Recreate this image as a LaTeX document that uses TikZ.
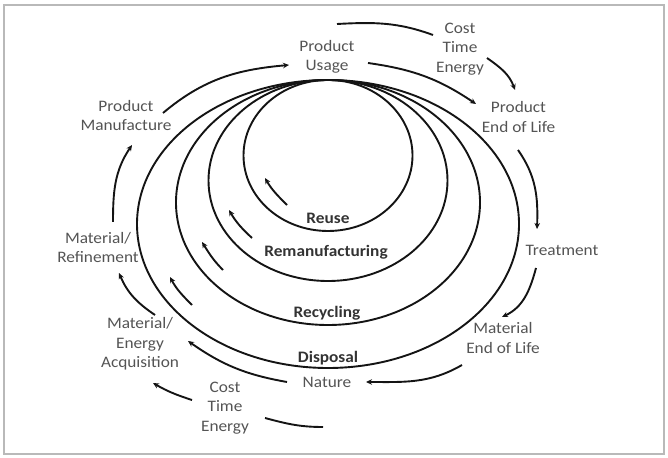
\documentclass[tikz,border=0pt]{standalone}
\usepackage{fontspec}
\setmainfont{Carlito}[FakeStretch=1.08]
\usetikzlibrary{arrows.meta}
\definecolor{txt}{gray}{0.33}
\definecolor{btxt}{gray}{0.2}
\definecolor{ln}{gray}{0.08}
\tikzset{
  lbl/.style={inner sep=0pt, align=center, text=txt, font=\fontsize{16}{19.3}\selectfont},
  blbl/.style={inner sep=0pt, align=center, text=btxt, font=\fontsize{16}{19.3}\selectfont\bfseries},
  ring/.style={draw=ln, line width=1.9pt},
  flow/.style={draw=ln, line width=1.9pt, -{Stealth[length=6pt,width=5.5pt]}},
  plain/.style={draw=ln, line width=1.9pt},
}
\begin{document}
\begin{tikzpicture}[x=1pt,y=1pt]
\useasboundingbox (0,0) rectangle (668,457);
\draw[gray!55, line width=2pt] (3.5,3) rectangle (664,452);

% rings
\draw[ring] (328,301.5) ellipse [x radius=84.5pt, y radius=75.5pt];
\draw[ring] (328,276.5) ellipse [x radius=119.5pt, y radius=100.5pt];
\draw[ring] (328,254.5) ellipse [x radius=152pt, y radius=122.5pt];
\draw[ring] (328,233) ellipse [x radius=191pt, y radius=144pt];

% labels
\node[lbl] (usage) at (327,400.5) {Product\\Usage};
\node[lbl] (costA) at (460,408) {Cost\\Time\\Energy};
\node[lbl] (manuf) at (126,341.5) {Product\\Manufacture};
\node[lbl] (pel) at (518.5,340) {Product\\End of Life};
\node[lbl] (refine) at (98,209.5) {Material/\\Refinement};
\node[lbl] (treat) at (562,207) {Treatment};
\node[lbl] (acq) at (140,113) {Material/\\Energy\\Acquisition};
\node[lbl] (mel) at (503,119) {Material\\End of Life};
\node[lbl] (nature) at (327,75) {Nature};
\node[lbl] (costB) at (225,49) {Cost\\Time\\Energy};
\node[blbl] (reuse) at (328,239) {Reuse};
\node[blbl] (reman) at (326,205) {Remanufacturing};
\node[blbl] (recyc) at (327,144) {Recycling};
\node[blbl] (disp) at (328,99) {Disposal};

% connector end points
\coordinate (a1s) at (163,344); \coordinate (a1e) at (289,392);
\coordinate (a2s) at (368,394); \coordinate (a2e) at (476,353);
\coordinate (c1s) at (337,433); \coordinate (c1e) at (433,422);
\coordinate (c2s) at (487,399); \coordinate (c2e) at (515,367);
\coordinate (a3s) at (518,307); \coordinate (a3e) at (537,228);
\coordinate (a4s) at (536,189); \coordinate (a4e) at (502,140);
\coordinate (a5s) at (462,92);  \coordinate (a5e) at (366,75);
\coordinate (a6s) at (287,75);  \coordinate (a6e) at (188,116);
\coordinate (a7s) at (155,142); \coordinate (a7e) at (119,184);
\coordinate (a8s) at (113,235); \coordinate (a8e) at (132,312);
\coordinate (c3s) at (323,30);  \coordinate (c3e) at (265,39);
\coordinate (c4s) at (192,57);  \coordinate (c4e) at (153,74);
\coordinate (r1s) at (287,252); \coordinate (r1e) at (265,279);
\coordinate (r2s) at (252,219); \coordinate (r2e) at (229,247);
\coordinate (r3s) at (223,187); \coordinate (r3e) at (202,215);
\coordinate (r4s) at (192,152); \coordinate (r4e) at (170,180);

% outer cycle
\draw[flow] (a1s) to[out=40,in=185] (a1e);
\draw[flow] (a2s) to[out=-8,in=146] (a2e);
\draw[plain] (c1s) to[out=3,in=160] (c1e);
\draw[flow] (c2s) to[out=-35,in=110] (c2e);
\draw[flow] (a3s) to[out=-55,in=88] (a3e);
\draw[flow] (a4s) to[out=-105,in=25] (a4e);
\draw[flow] (a5s) to[out=-150,in=0] (a5e);
\draw[flow] (a6s) to[out=170,in=-35] (a6e);
\draw[flow] (a7s) to[out=146,in=-67] (a7e);
\draw[flow] (a8s) to[out=90,in=-124] (a8e);
\draw[plain] (c3s) to[out=180,in=-15] (c3e);
\draw[flow] (c4s) to[out=162,in=-30] (c4e);

% inner loops
\draw[flow] (r1s) to[out=135,in=-60] (r1e);
\draw[flow] (r2s) to[out=137,in=-60] (r2e);
\draw[flow] (r3s) to[out=135,in=-58] (r3e);
\draw[flow] (r4s) to[out=135,in=-62] (r4e);
\end{tikzpicture}
\end{document}
